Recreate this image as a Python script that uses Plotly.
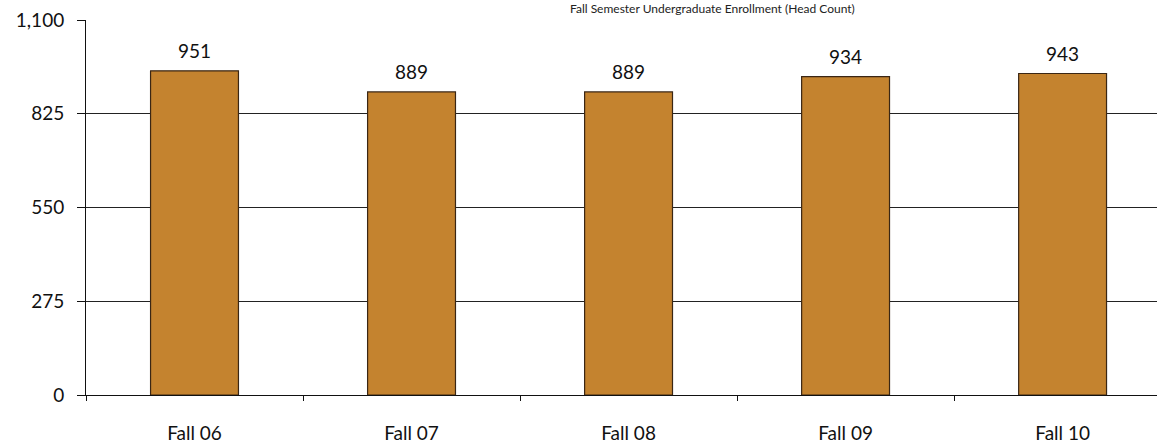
import plotly.graph_objects as go

categories = ["Fall 06", "Fall 07", "Fall 08", "Fall 09", "Fall 10"]
values = [951, 889, 889, 934, 943]
y_ticks = [0, 275, 550, 825, 1100]
title_text = "Fall Semester Undergraduate Enrollment (Head Count)"

FONT = "Lato, Open Sans, sans-serif"

fig = go.Figure()
fig.add_trace(go.Bar(
    x=categories, y=values,
    width=0.405,
    marker=dict(color="#C4832F", line=dict(color="#3a2614", width=1.2)),
    hoverinfo="x+y",
))

for c, v in zip(categories, values):
    fig.add_annotation(
        x=c, y=v, text=str(v), showarrow=False,
        xanchor="center", yanchor="bottom", yshift=7,
        font=dict(family=FONT, size=19, color="#111"),
    )

fig.update_layout(
    width=1157, height=448,
    margin=dict(l=86, r=0, t=20, b=53, autoexpand=False),
    paper_bgcolor="white", plot_bgcolor="white",
    showlegend=False,
)
fig.add_annotation(
    text=title_text, xref="paper", yref="paper", x=0.585, y=1.0,
    xanchor="center", yanchor="bottom", yshift=2, showarrow=False,
    font=dict(family=FONT, size=12, color="#222"),
)
fig.update_xaxes(
    type="category", range=[-0.5, 4.435], automargin=False,
    showline=True, linecolor="#111", linewidth=1,
    ticks="outside", tickson="boundaries", ticklen=5, tickcolor="#111",
    tickfont=dict(family=FONT, size=19, color="#111"),
    ticklabelstandoff=21,
    showgrid=False,
)
fig.update_yaxes(
    range=[0, 1100], tickvals=y_ticks, tickformat=",", automargin=False,
    showline=True, linecolor="#111", linewidth=1,
    ticks="outside", ticklen=8, tickcolor="#111",
    showgrid=True, gridcolor="#222", gridwidth=1,
    zeroline=False,
    tickfont=dict(family=FONT, size=19, color="#111"),
    ticklabelstandoff=9,
)

fig.write_html(
    "out.html",
    config={"displayModeBar": False},
    post_script="document.body.style.margin='0';document.body.style.overflow='hidden';",
)
